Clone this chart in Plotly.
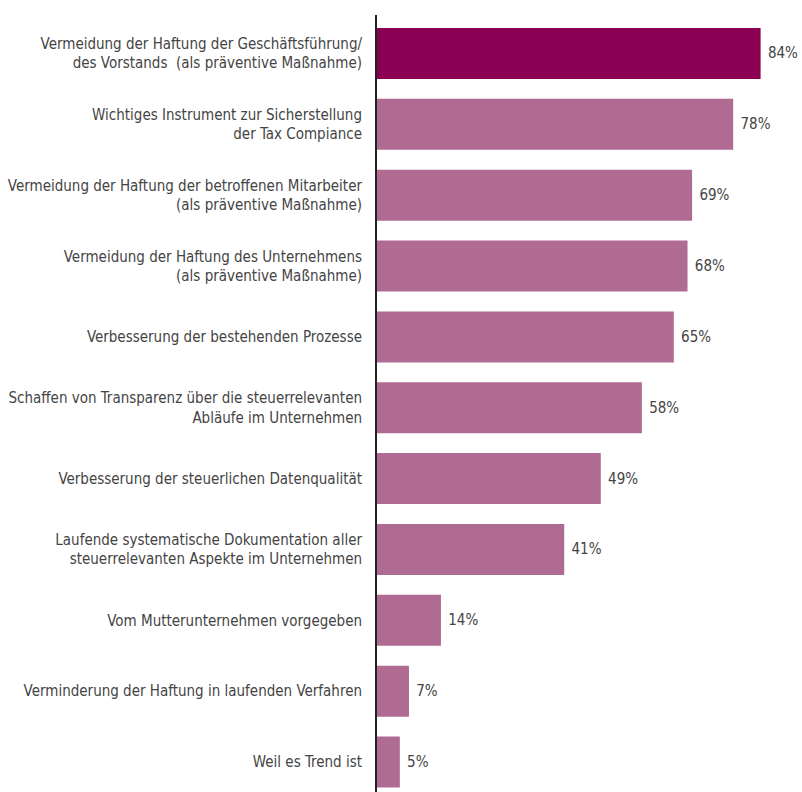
import plotly.graph_objects as go

# Survey answers, top to bottom
categories = [
    "Vermeidung der Haftung der Geschäftsführung/<br>des Vorstands  (als präventive Maßnahme)",
    "Wichtiges Instrument zur Sicherstellung<br>der Tax Compiance",
    "Vermeidung der Haftung der betroffenen Mitarbeiter<br>(als präventive Maßnahme)",
    "Vermeidung der Haftung des Unternehmens<br>(als präventive Maßnahme)",
    "Verbesserung der bestehenden Prozesse",
    "Schaffen von Transparenz über die steuerrelevanten<br>Abläufe im Unternehmen",
    "Verbesserung der steuerlichen Datenqualität",
    "Laufende systematische Dokumentation aller<br>steuerrelevanten Aspekte im Unternehmen",
    "Vom Mutterunternehmen vorgegeben",
    "Verminderung der Haftung in laufenden Verfahren",
    "Weil es Trend ist",
]
values = [84, 78, 69, 68, 65, 58, 49, 41, 14, 7, 5]
value_labels = [f" {v}%" for v in values]

DARK = "#8a0052"
LIGHT = "#b06b93"
colors = [DARK] + [LIGHT] * (len(values) - 1)

FONT = "DejaVu Sans Condensed, Liberation Sans Narrow, sans-serif"

fig = go.Figure(
    go.Bar(
        x=values,
        y=categories,
        orientation="h",
        marker=dict(color=colors, line=dict(width=0)),
        text=value_labels,
        textposition="outside",
        textfont=dict(family=FONT, size=15, color="#444444"),
        cliponaxis=False,
    )
)

fig.update_layout(
    width=802,
    height=792,
    margin=dict(l=377, r=14, t=15, b=0, autoexpand=False),
    paper_bgcolor="white",
    plot_bgcolor="white",
    bargap=0.28,
    showlegend=False,
    font=dict(family=FONT, size=15, color="#444444"),
)
fig.update_xaxes(
    range=[0, 90],
    visible=False,
    showgrid=False,
    zeroline=False,
    automargin=False,
)
fig.update_yaxes(
    range=[10.423, -0.543],
    automargin=False,
    showgrid=False,
    zeroline=False,
    showline=True,
    linecolor="#222222",
    linewidth=2,
    ticks="outside",
    ticklen=10,
    tickcolor="rgba(0,0,0,0)",
    tickfont=dict(family=FONT, size=15, color="#444444"),
)

fig.write_html("out.html")
